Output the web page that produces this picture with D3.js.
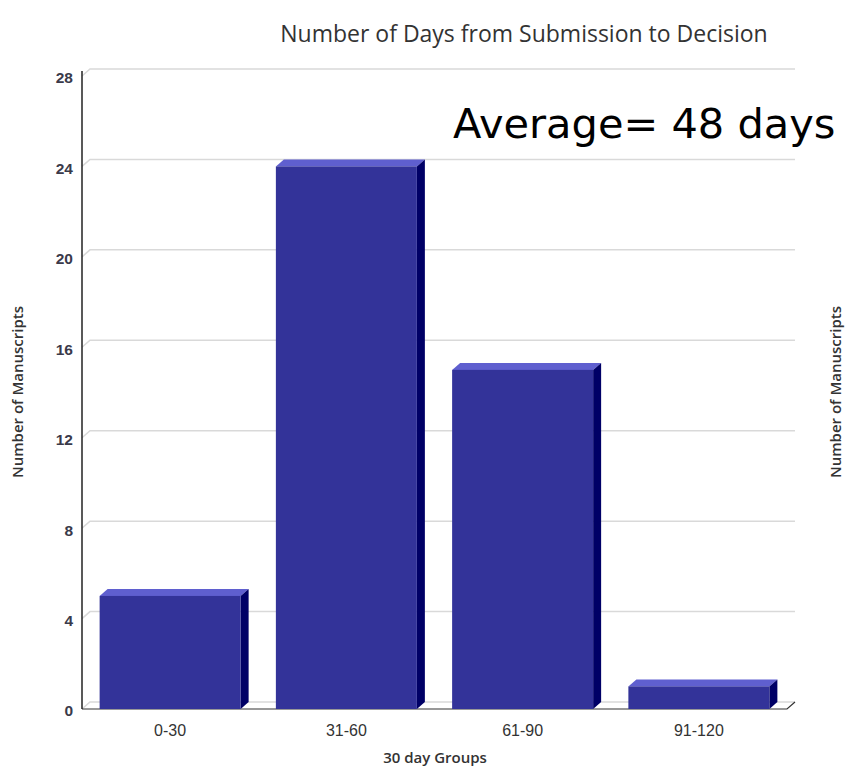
<!DOCTYPE html>
<html lang="en">
<head>
  <meta charset="utf-8">
  <title>Number of Days from Submission to Decision</title>
  <script src="https://d3js.org/d3.v7.min.js"></script>
  <style>
    body { margin: 0; background: #fff; overflow: hidden; }
    svg { display: block; font-family: "Open Sans", sans-serif; }
  </style>
</head>
<body>
  <svg width="850" height="768"></svg>
  <script>
    // data
    var groups = ["0-30", "31-60", "61-90", "91-120"];
    var manuscripts = [5, 24, 15, 1];
    var yTicks = [0, 4, 8, 12, 16, 20, 24, 28];

    var svg = d3.select("svg");

    // 3d depth of the box
    var dx = 8, dy = -7;

    var x = d3.scaleBand()
        .domain(groups)
        .range([82, 787])
        .paddingInner(0.2)
        .paddingOuter(0.1);

    var y = d3.scaleLinear()
        .domain([0, 28])
        .range([709, 76]);

    // gridlines on the back wall, with the short diagonal on the side wall
    var grid = svg.append("g");
    yTicks.forEach(function(t) {
      grid.append("path")
          .attr("d", "M" + x.range()[0] + "," + y(t) + "l" + dx + "," + dy + "H" + (x.range()[1] + dx))
          .attr("fill", "none")
          .attr("stroke", "#d9d9d9")
          .attr("stroke-width", 1.5);
    });

    // floor front edge + right diagonal
    svg.append("path")
        .attr("d", "M" + x.range()[0] + "," + y(0) + "H" + x.range()[1] + "l" + dx + "," + dy)
        .attr("fill", "none")
        .attr("stroke", "#333")
        .attr("stroke-width", 1.2);

    // bars
    var bar = svg.append("g").selectAll("g")
      .data(groups)
      .enter().append("g");

    bar.append("path") // top face
        .attr("d", function(d, i) {
          var x0 = x(d), x1 = x(d) + x.bandwidth(), yt = y(manuscripts[i]);
          return "M" + x0 + "," + yt + "l" + dx + "," + dy + "H" + (x1 + dx) + "l" + (-dx) + "," + (-dy) + "Z";
        })
        .attr("fill", "#5f5fcf");

    bar.append("path") // side face
        .attr("d", function(d, i) {
          var x1 = x(d) + x.bandwidth(), yt = y(manuscripts[i]);
          return "M" + x1 + "," + yt + "l" + dx + "," + dy + "V" + (y(0) + dy) + "l" + (-dx) + "," + (-dy) + "Z";
        })
        .attr("fill", "#000066");

    bar.append("rect") // front face
        .attr("x", function(d) { return x(d); })
        .attr("y", function(d, i) { return y(manuscripts[i]); })
        .attr("width", x.bandwidth())
        .attr("height", function(d, i) { return y(0) - y(manuscripts[i]); })
        .attr("fill", "#333399");

    // y axis
    var yAxis = svg.append("g")
        .attr("transform", "translate(" + x.range()[0] + ",0)")
        .call(d3.axisLeft(y).tickValues(yTicks).tickSize(0).tickPadding(9));
    yAxis.select(".domain").remove();
    yAxis.selectAll("text")
        .attr("dy", "0.45em")
        .style("font-size", "15.5px")
        .style("font-weight", 600)
        .attr("fill", "#3a3a4a");
    svg.append("line")
        .attr("x1", x.range()[0]).attr("x2", x.range()[0])
        .attr("y1", 71).attr("y2", y(0))
        .attr("stroke", "#222")
        .attr("stroke-width", 1.5);

    // x axis labels
    var xAxis = svg.append("g")
        .attr("transform", "translate(0," + y(0) + ")")
        .call(d3.axisBottom(x).tickSize(0).tickPadding(16));
    xAxis.select(".domain").remove();
    xAxis.selectAll("text")
        .style("font-size", "16px")
        .attr("fill", "#333");

    // titles
    svg.append("text")
        .attr("x", 524).attr("y", 42)
        .attr("text-anchor", "middle")
        .attr("font-size", 23)
        .attr("fill", "#333")
        .text("Number of Days from Submission to Decision");

    svg.append("text")
        .attr("x", 435).attr("y", 763)
        .attr("text-anchor", "middle")
        .attr("font-size", 15)
        .attr("font-weight", 600)
        .attr("fill", "#333")
        .text("30 day Groups");

    [18, 836].forEach(function(cx) {
      svg.append("text")
          .attr("transform", "translate(" + cx + ",392) rotate(-90)")
          .attr("text-anchor", "middle")
          .attr("dy", "0.35em")
          .attr("font-size", 15)
          .attr("font-weight", 600)
          .attr("fill", "#333")
          .text("Number of Manuscripts");
    });

    svg.append("text")
        .attr("x", 453).attr("y", 138)
        .attr("font-family", "DejaVu Sans, sans-serif")
        .attr("font-size", 41.5)
        .attr("fill", "#000")
        .text("Average= 48 days");
  </script>
</body>
</html>
